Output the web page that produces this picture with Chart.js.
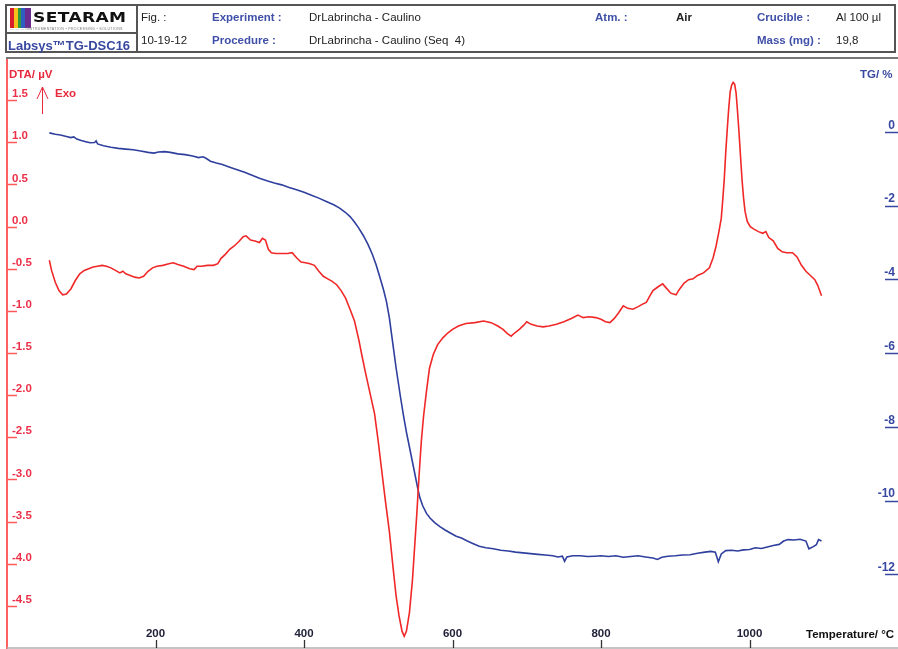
<!DOCTYPE html>
<html><head><meta charset="utf-8">
<script src="https://cdn.jsdelivr.net/npm/chart.js@4.4.1/dist/chart.umd.min.js"></script>
<style>
html,body{margin:0;padding:0;background:#fff;width:898px;height:649px;overflow:hidden;font-family:"Liberation Sans",Arial,sans-serif;}
#wrap{position:absolute;left:0;top:0;width:898px;height:649px;}
#c{position:absolute;left:0;top:0;}
.t{position:absolute;white-space:nowrap;font-size:11.5px;line-height:1;color:#222;}
.b{font-weight:bold;}
.lab{color:#4050a8;font-weight:bold;}
.box{position:absolute;box-sizing:border-box;}
</style></head>
<body>
<div id="wrap">
<canvas id="c" width="898" height="649"></canvas>
<div class="box" style="left:5px;top:4px;width:891px;height:49px;border:2px solid #555;"></div>
<div class="box" style="left:136px;top:4px;width:2px;height:49px;background:#555;"></div>
<div class="box" style="left:5px;top:32px;width:132px;height:1.5px;background:#555;"></div>
<div class="box" style="left:10px;top:8px;width:21px;height:20px;background:linear-gradient(90deg,#d81e2a 0 18%,#f4c21b 18% 36%,#2f9a3c 36% 54%,#2f5fc0 54% 72%,#6a2c8e 72% 100%);"></div>
<div class="t" style="left:33px;top:10px;font-family:'DejaVu Sans';font-weight:bold;font-size:14px;color:#111;transform:scaleX(1.22);transform-origin:left center;letter-spacing:0.3px;">SETARAM</div>
<div class="t" style="left:10px;top:28px;font-size:3.6px;color:#777;letter-spacing:0.3px;">— — — INSTRUMENTATION • PROCESSING • SOLUTIONS</div>
<div class="t b" style="left:8px;top:39px;font-size:13px;color:#3848a0;">Labsys™TG-DSC16</div>
<div class="t" style="left:141px;top:12px;">Fig. :</div>
<div class="t" style="left:141px;top:35px;">10-19-12</div>
<div class="t lab" style="left:212px;top:12px;">Experiment :</div>
<div class="t lab" style="left:212px;top:35px;">Procedure :</div>
<div class="t" style="left:309px;top:12px;">DrLabrincha - Caulino</div>
<div class="t" style="left:309px;top:35px;">DrLabrincha - Caulino (Seq&nbsp; 4)</div>
<div class="t lab" style="left:595px;top:12px;">Atm. :</div>
<div class="t b" style="left:676px;top:12px;">Air</div>
<div class="t lab" style="left:757px;top:12px;">Crucible :</div>
<div class="t" style="left:836px;top:12px;">Al 100 µl</div>
<div class="t lab" style="left:757px;top:35px;">Mass (mg) :</div>
<div class="t" style="left:836px;top:35px;">19,8</div>
<div class="t b" style="left:9px;top:69px;color:#e8283c;">DTA/ µV</div>
<div class="t b" style="left:55px;top:88px;color:#e8283c;">Exo</div>
<div class="t b" style="left:860px;top:69px;color:#3848a0;">TG/ %</div>
<div class="t b" style="left:806px;top:629px;color:#111;">Temperature/ °C</div>
</div>
<script>
// ---- data ----
const dtaTemp = [57,60,65,70,75,80,86,92,98,104,110,116,122,128,134,140,146,152,156,160,166,172,178,184,190,196,202,210,218,224,230,238,246,252,256,262,270,278,284,288,294,300,306,312,318,322,328,334,340,344,348,352,356,362,370,378,384,390,396,402,408,414,420,426,432,438,444,450,456,462,468,474,478,482,486,490,495,500,505,510,515,520,524,528,532,535,538,542,546,549,552,555,558,561,565,569,574,580,587,594,600,608,618,630,642,652,661,668,674,679,684,690,696,700,706,714,722,730,740,750,760,769,776,784,793,800,806,812,818,824,830,836,843,850,856,861,866,870,876,883,888,894,901,906,912,918,924,930,938,946,951,955,959,962,964,966,968,970,972,974,976,978,980,982,984,986,988,990,992,994,997,1001,1006,1012,1018,1022,1026,1032,1038,1044,1050,1058,1064,1070,1076,1082,1088,1092,1097];
const dtaSignal = [-0.40,-0.52,-0.66,-0.76,-0.81,-0.80,-0.74,-0.64,-0.56,-0.52,-0.50,-0.48,-0.47,-0.46,-0.47,-0.49,-0.52,-0.55,-0.53,-0.56,-0.58,-0.60,-0.61,-0.59,-0.53,-0.49,-0.47,-0.46,-0.44,-0.43,-0.45,-0.47,-0.50,-0.51,-0.47,-0.47,-0.46,-0.46,-0.44,-0.38,-0.33,-0.27,-0.23,-0.18,-0.12,-0.11,-0.16,-0.17,-0.19,-0.14,-0.16,-0.27,-0.31,-0.32,-0.32,-0.32,-0.31,-0.37,-0.42,-0.43,-0.44,-0.46,-0.53,-0.59,-0.62,-0.65,-0.69,-0.76,-0.85,-0.98,-1.12,-1.35,-1.53,-1.70,-1.86,-2.02,-2.22,-2.55,-2.92,-3.28,-3.62,-4.05,-4.38,-4.62,-4.80,-4.86,-4.80,-4.58,-4.20,-3.80,-3.40,-2.95,-2.55,-2.25,-1.95,-1.68,-1.52,-1.40,-1.32,-1.26,-1.22,-1.18,-1.15,-1.14,-1.12,-1.14,-1.18,-1.22,-1.27,-1.30,-1.26,-1.22,-1.17,-1.13,-1.16,-1.18,-1.19,-1.18,-1.16,-1.13,-1.09,-1.05,-1.08,-1.07,-1.08,-1.10,-1.13,-1.14,-1.09,-1.02,-0.94,-0.97,-0.98,-0.95,-0.92,-0.90,-0.82,-0.76,-0.72,-0.68,-0.73,-0.79,-0.81,-0.74,-0.67,-0.63,-0.62,-0.58,-0.55,-0.49,-0.37,-0.23,-0.05,0.10,0.32,0.56,0.88,1.15,1.40,1.60,1.68,1.71,1.69,1.58,1.35,1.10,0.82,0.55,0.34,0.18,0.06,0.00,-0.03,-0.06,-0.08,-0.06,-0.13,-0.17,-0.26,-0.30,-0.31,-0.31,-0.36,-0.46,-0.53,-0.58,-0.63,-0.70,-0.82];
const tgTemp = [57,65,72,80,86,90,94,100,106,112,118,120,122,130,140,150,160,170,180,190,198,204,212,220,230,240,250,258,264,268,274,282,290,300,310,320,330,340,350,360,370,380,390,400,410,420,430,440,448,456,462,468,474,480,486,492,497,502,507,511,515,518,521,524,527,530,534,538,542,546,550,553,556,560,565,570,576,583,590,597,605,612,620,628,636,645,655,665,675,685,695,705,715,725,735,742,748,751,754,762,772,782,792,800,810,820,830,840,850,860,870,876,882,890,900,910,920,930,940,948,954,958,962,968,976,984,992,1000,1008,1016,1024,1032,1040,1046,1052,1060,1068,1076,1080,1086,1090,1093,1097];
const tgMass = [-0.03,-0.07,-0.09,-0.13,-0.16,-0.14,-0.20,-0.24,-0.27,-0.30,-0.29,-0.25,-0.33,-0.38,-0.42,-0.45,-0.47,-0.49,-0.52,-0.56,-0.58,-0.55,-0.54,-0.56,-0.60,-0.62,-0.66,-0.70,-0.68,-0.72,-0.80,-0.85,-0.89,-0.96,-1.03,-1.10,-1.18,-1.26,-1.33,-1.39,-1.44,-1.51,-1.57,-1.64,-1.72,-1.80,-1.89,-1.98,-2.07,-2.19,-2.30,-2.45,-2.62,-2.82,-3.05,-3.32,-3.60,-3.93,-4.28,-4.60,-5.05,-5.50,-5.95,-6.40,-6.80,-7.20,-7.70,-8.15,-8.55,-8.95,-9.35,-9.65,-9.92,-10.15,-10.35,-10.48,-10.60,-10.71,-10.80,-10.88,-10.97,-11.02,-11.10,-11.17,-11.24,-11.28,-11.31,-11.35,-11.37,-11.40,-11.42,-11.44,-11.46,-11.48,-11.50,-11.53,-11.51,-11.65,-11.53,-11.50,-11.50,-11.52,-11.51,-11.50,-11.52,-11.50,-11.54,-11.52,-11.50,-11.53,-11.56,-11.60,-11.54,-11.51,-11.50,-11.48,-11.47,-11.43,-11.40,-11.38,-11.40,-11.66,-11.45,-11.36,-11.35,-11.37,-11.34,-11.33,-11.28,-11.30,-11.26,-11.22,-11.19,-11.10,-11.06,-11.07,-11.05,-11.10,-11.31,-11.25,-11.20,-11.06,-11.10];
const dtaTicks = [1.5,1.0,0.5,0.0,-0.5,-1.0,-1.5,-2.0,-2.5,-3.0,-3.5,-4.0,-4.5];
const tgTicks = [0,-2,-4,-6,-8,-10,-12];
const tempTicks = [200,400,600,800,1000];

const toXY = (xs, ys) => xs.map((x, i) => ({x: x, y: ys[i]}));

const deco = {
  id: 'deco',
  afterDraw(chart) {
    const {ctx, chartArea: a, scales} = chart;
    const ln = (x1, y1, x2, y2) => { ctx.beginPath(); ctx.moveTo(x1, y1); ctx.lineTo(x2, y2); ctx.stroke(); };
    ctx.save();
    ctx.strokeStyle = '#777'; ctx.lineWidth = 2;
    ln(a.left - 1, a.top, a.right, a.top);
    ctx.strokeStyle = '#b0b0b0'; ctx.lineWidth = 1.5;
    ln(a.left, a.bottom, a.right, a.bottom);
    ctx.strokeStyle = '#333'; ctx.lineWidth = 1.3;
    tempTicks.forEach(t => { const p = Math.round(scales.x.getPixelForValue(t)) + 0.5; ln(p, a.bottom - 8, p, a.bottom); });
    ctx.strokeStyle = '#ff5a5a'; ctx.lineWidth = 1.5;
    dtaTicks.forEach(v => { const p = Math.round(scales.yDTA.getPixelForValue(v)) + 0.5; ln(a.left, p, a.left + 10, p); });
    ctx.strokeStyle = '#3848a0';
    tgTicks.forEach(v => { const p = Math.round(scales.yTG.getPixelForValue(v)) + 0.5; ln(a.right - 13, p, a.right, p); });
    // exo arrow
    ctx.strokeStyle = '#e8283c'; ctx.lineWidth = 1;
    ln(42.5, 114, 42.5, 87);
    ln(37, 99, 42.5, 87); ln(48, 99, 42.5, 87);
    ctx.restore();
  }
};

const zeroPad = s => { s.paddingTop = 0; s.paddingBottom = 0; s.paddingLeft = 0; s.paddingRight = 0; };
const tickFont = {family: "'Liberation Sans', Arial, sans-serif", size: 11.5, weight: 'bold'};

new Chart(document.getElementById('c'), {
  type: 'line',
  data: {
    datasets: [
      {label: 'DTA', data: toXY(dtaTemp, dtaSignal), yAxisID: 'yDTA', borderColor: '#f02828', borderWidth: 1.6, pointRadius: 0, tension: 0, fill: false},
      {label: 'TG', data: toXY(tgTemp, tgMass), yAxisID: 'yTG', borderColor: '#2f3f9e', borderWidth: 1.6, pointRadius: 0, tension: 0, fill: false}
    ]
  },
  options: {
    responsive: false,
    animation: false,
    events: [],
    layout: {padding: {left: 7, right: 0, top: 58, bottom: 1}},
    plugins: {legend: {display: false}, tooltip: {enabled: false}},
    scales: {
      x: {
        type: 'linear', position: 'bottom', min: 0, max: 1200,
        afterFit: s => { s.height = 0; zeroPad(s); },
        afterBuildTicks: s => { s.ticks = tempTicks.map(v => ({value: v})); },
        grid: {display: false, drawTicks: false},
        border: {display: false},
        ticks: {mirror: true, padding: 7, autoSkip: false, maxRotation: 0, color: '#22223a', font: tickFont, callback: v => String(v)}
      },
      yDTA: {
        type: 'linear', position: 'left', min: -5, max: 2,
        afterFit: s => { s.width = 0; zeroPad(s); },
        afterBuildTicks: s => { s.ticks = dtaTicks.map(v => ({value: v})); },
        grid: {display: false, drawTicks: false},
        border: {display: true, color: '#ff6060', width: 2},
        ticks: {mirror: true, padding: 5, labelOffset: -6, color: '#ec3048', font: tickFont, callback: v => Number(v).toFixed(1)}
      },
      yTG: {
        type: 'linear', position: 'right', min: -14, max: 2,
        afterFit: s => { s.width = 0; zeroPad(s); },
        afterBuildTicks: s => { s.ticks = tgTicks.map(v => ({value: v})); },
        grid: {display: false, drawTicks: false},
        border: {display: false},
        ticks: {mirror: true, padding: -3, labelOffset: -6.5, color: '#3848a0', font: {family: "'Liberation Sans', Arial, sans-serif", size: 12, weight: 'bold'}, callback: v => String(v)}
      }
    }
  },
  plugins: [deco]
});
</script>
</body></html>
